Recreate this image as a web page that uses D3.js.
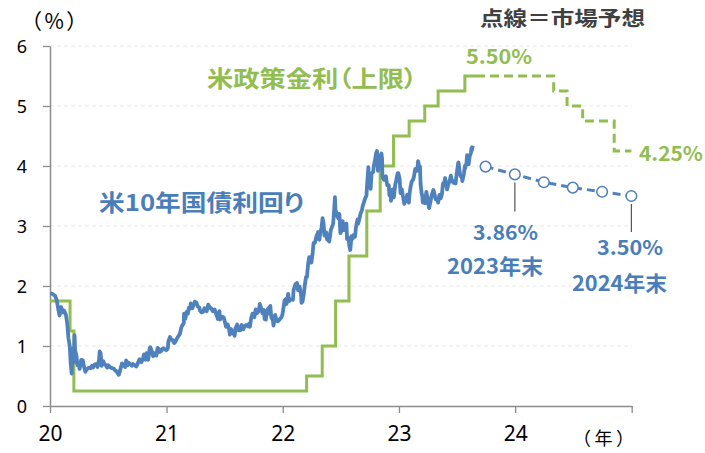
<!DOCTYPE html>
<html><head><meta charset="utf-8">
<script src="https://cdn.jsdelivr.net/npm/d3@7"></script>
<style>body{margin:0;background:#fff}svg{display:block}text{font-feature-settings:"palt"}text.np{font-feature-settings:normal}</style>
</head><body>
<svg id="c" width="705" height="453"></svg>
<script>
// ---- data ----
const yearTicks = [2020, 2021, 2022, 2023, 2024, 2025];
const yearLabels = ["20", "21", "22", "23", "24", ""];
const yTicks = [0, 1, 2, 3, 4, 5, 6];

// US 10-year Treasury yield (actual)
const yieldData = [
["2020-01-02",1.88],["2020-01-08",1.87],["2020-01-13",1.85],["2020-01-17",1.84],["2020-01-22",1.77],["2020-01-27",1.61],["2020-01-31",1.51],
["2020-02-05",1.65],["2020-02-10",1.56],["2020-02-14",1.59],["2020-02-20",1.52],["2020-02-24",1.38],["2020-02-28",1.13],
["2020-03-03",1.00],["2020-03-06",0.71],["2020-03-09",0.54],["2020-03-11",0.82],["2020-03-13",0.96],["2020-03-16",0.73],["2020-03-18",1.18],["2020-03-20",0.92],["2020-03-24",0.84],["2020-03-27",0.68],["2020-03-31",0.70],
["2020-04-03",0.62],["2020-04-08",0.77],["2020-04-13",0.76],["2020-04-17",0.65],["2020-04-21",0.57],["2020-04-24",0.60],["2020-04-29",0.63],
["2020-05-04",0.64],["2020-05-07",0.63],["2020-05-12",0.67],["2020-05-15",0.64],["2020-05-20",0.69],["2020-05-26",0.70],["2020-05-29",0.65],
["2020-06-03",0.77],["2020-06-05",0.91],["2020-06-08",0.88],["2020-06-11",0.67],["2020-06-16",0.75],["2020-06-19",0.71],["2020-06-24",0.68],["2020-06-29",0.64],
["2020-07-02",0.68],["2020-07-07",0.65],["2020-07-10",0.64],["2020-07-15",0.63],["2020-07-20",0.62],["2020-07-24",0.59],["2020-07-28",0.58],["2020-07-31",0.55],
["2020-08-04",0.52],["2020-08-07",0.57],["2020-08-12",0.67],["2020-08-14",0.71],["2020-08-19",0.68],["2020-08-24",0.65],["2020-08-27",0.76],
["2020-09-01",0.68],["2020-09-04",0.72],["2020-09-09",0.70],["2020-09-14",0.67],["2020-09-18",0.70],["2020-09-23",0.68],["2020-09-28",0.66],
["2020-10-02",0.70],["2020-10-07",0.77],["2020-10-09",0.78],["2020-10-14",0.73],["2020-10-19",0.78],["2020-10-22",0.86],["2020-10-27",0.77],["2020-10-30",0.88],
["2020-11-04",0.77],["2020-11-06",0.83],["2020-11-09",0.96],["2020-11-11",0.98],["2020-11-16",0.91],["2020-11-20",0.83],["2020-11-24",0.88],["2020-11-30",0.84],
["2020-12-04",0.97],["2020-12-09",0.94],["2020-12-11",0.90],["2020-12-16",0.92],["2020-12-18",0.95],["2020-12-23",0.96],["2020-12-31",0.93],
["2021-01-05",0.96],["2021-01-07",1.08],["2021-01-12",1.15],["2021-01-15",1.11],["2021-01-20",1.10],["2021-01-25",1.05],["2021-01-29",1.07],
["2021-02-03",1.13],["2021-02-08",1.17],["2021-02-12",1.20],["2021-02-16",1.30],["2021-02-19",1.34],["2021-02-24",1.38],["2021-02-25",1.54],
["2021-03-01",1.45],["2021-03-05",1.57],["2021-03-09",1.54],["2021-03-12",1.64],["2021-03-16",1.62],["2021-03-18",1.71],["2021-03-23",1.63],["2021-03-26",1.67],["2021-03-31",1.74],
["2021-04-05",1.72],["2021-04-09",1.66],["2021-04-14",1.64],["2021-04-16",1.59],["2021-04-21",1.56],["2021-04-26",1.57],["2021-04-30",1.63],
["2021-05-04",1.59],["2021-05-07",1.58],["2021-05-12",1.69],["2021-05-17",1.64],["2021-05-21",1.63],["2021-05-26",1.58],
["2021-06-01",1.61],["2021-06-04",1.56],["2021-06-09",1.49],["2021-06-11",1.45],["2021-06-16",1.58],["2021-06-18",1.44],["2021-06-23",1.49],["2021-06-29",1.48],
["2021-07-02",1.43],["2021-07-07",1.32],["2021-07-12",1.36],["2021-07-16",1.29],["2021-07-19",1.19],["2021-07-23",1.28],["2021-07-28",1.23],
["2021-08-03",1.17],["2021-08-06",1.30],["2021-08-11",1.36],["2021-08-16",1.26],["2021-08-20",1.26],["2021-08-25",1.35],["2021-08-30",1.28],
["2021-09-03",1.33],["2021-09-08",1.35],["2021-09-13",1.33],["2021-09-17",1.37],["2021-09-20",1.32],["2021-09-24",1.47],["2021-09-28",1.54],
["2021-10-04",1.48],["2021-10-08",1.61],["2021-10-13",1.55],["2021-10-18",1.59],["2021-10-21",1.70],["2021-10-26",1.62],["2021-10-29",1.55],
["2021-11-03",1.60],["2021-11-05",1.45],["2021-11-09",1.44],["2021-11-12",1.58],["2021-11-17",1.63],["2021-11-19",1.54],["2021-11-23",1.67],["2021-11-26",1.48],
["2021-12-01",1.43],["2021-12-03",1.34],["2021-12-08",1.52],["2021-12-13",1.42],["2021-12-17",1.41],["2021-12-20",1.43],["2021-12-28",1.48],["2021-12-31",1.52],
["2022-01-04",1.66],["2022-01-07",1.76],["2022-01-10",1.78],["2022-01-13",1.70],["2022-01-18",1.87],["2022-01-21",1.75],["2022-01-25",1.77],["2022-01-28",1.78],
["2022-02-02",1.77],["2022-02-04",1.93],["2022-02-10",2.03],["2022-02-14",1.99],["2022-02-15",2.05],["2022-02-18",1.93],["2022-02-23",1.99],["2022-02-28",1.83],
["2022-03-01",1.72],["2022-03-04",1.74],["2022-03-08",1.86],["2022-03-11",2.00],["2022-03-15",2.15],["2022-03-18",2.15],["2022-03-22",2.38],["2022-03-25",2.48],["2022-03-28",2.46],
["2022-04-01",2.39],["2022-04-05",2.56],["2022-04-08",2.72],["2022-04-12",2.72],["2022-04-18",2.85],["2022-04-20",2.85],["2022-04-22",2.90],["2022-04-26",2.77],["2022-04-29",2.89],
["2022-05-03",2.97],["2022-05-06",3.13],["2022-05-09",3.05],["2022-05-11",2.91],["2022-05-12",2.84],["2022-05-16",2.88],["2022-05-18",2.89],["2022-05-20",2.78],["2022-05-24",2.76],["2022-05-27",2.74],
["2022-06-01",2.93],["2022-06-03",2.96],["2022-06-08",3.03],["2022-06-10",3.15],["2022-06-14",3.48],["2022-06-16",3.19],["2022-06-17",3.25],["2022-06-22",3.16],["2022-06-24",3.13],["2022-06-28",3.20],
["2022-07-01",2.88],["2022-07-06",2.93],["2022-07-08",3.08],["2022-07-13",2.93],["2022-07-15",2.93],["2022-07-20",3.04],["2022-07-22",2.78],["2022-07-27",2.80],["2022-07-29",2.67],
["2022-08-01",2.60],["2022-08-05",2.83],["2022-08-09",2.79],["2022-08-12",2.85],["2022-08-16",2.82],["2022-08-19",2.98],["2022-08-24",3.11],["2022-08-26",3.04],["2022-08-31",3.15],
["2022-09-02",3.20],["2022-09-07",3.27],["2022-09-09",3.33],["2022-09-14",3.41],["2022-09-16",3.45],["2022-09-21",3.51],["2022-09-23",3.69],["2022-09-27",3.98],["2022-09-28",3.73],["2022-09-30",3.83],
["2022-10-04",3.62],["2022-10-07",3.88],["2022-10-12",3.90],["2022-10-14",4.00],["2022-10-19",4.13],["2022-10-21",4.21],["2022-10-24",4.25],["2022-10-27",3.92],["2022-10-31",4.05],
["2022-11-03",4.14],["2022-11-04",4.17],["2022-11-07",4.21],["2022-11-09",4.12],["2022-11-10",3.82],["2022-11-15",3.77],["2022-11-17",3.77],["2022-11-21",3.83],["2022-11-25",3.68],["2022-11-30",3.68],
["2022-12-02",3.51],["2022-12-06",3.51],["2022-12-07",3.42],["2022-12-12",3.61],["2022-12-13",3.50],["2022-12-16",3.48],["2022-12-20",3.68],["2022-12-23",3.75],["2022-12-28",3.88],["2022-12-30",3.88],
["2023-01-03",3.79],["2023-01-06",3.55],["2023-01-10",3.61],["2023-01-13",3.51],["2023-01-18",3.37],["2023-01-19",3.39],["2023-01-24",3.46],["2023-01-27",3.52],
["2023-02-01",3.39],["2023-02-03",3.53],["2023-02-07",3.67],["2023-02-10",3.74],["2023-02-14",3.77],["2023-02-17",3.82],["2023-02-21",3.95],["2023-02-24",3.95],["2023-02-28",3.92],
["2023-03-02",4.08],["2023-03-06",3.98],["2023-03-08",3.99],["2023-03-10",3.70],["2023-03-13",3.55],["2023-03-15",3.51],["2023-03-17",3.39],["2023-03-22",3.48],["2023-03-24",3.38],["2023-03-28",3.57],["2023-03-31",3.48],
["2023-04-05",3.31],["2023-04-06",3.30],["2023-04-10",3.41],["2023-04-14",3.52],["2023-04-19",3.60],["2023-04-21",3.57],["2023-04-26",3.45],["2023-04-28",3.44],
["2023-05-02",3.44],["2023-05-04",3.39],["2023-05-08",3.52],["2023-05-12",3.46],["2023-05-16",3.53],["2023-05-19",3.70],["2023-05-24",3.74],["2023-05-26",3.80],["2023-05-31",3.64],
["2023-06-01",3.61],["2023-06-05",3.69],["2023-06-09",3.75],["2023-06-13",3.84],["2023-06-16",3.77],["2023-06-21",3.72],["2023-06-23",3.74],["2023-06-28",3.71],["2023-06-30",3.81],
["2023-07-06",4.05],["2023-07-07",4.06],["2023-07-12",3.86],["2023-07-14",3.83],["2023-07-18",3.80],["2023-07-19",3.75],["2023-07-24",3.87],["2023-07-27",4.00],["2023-07-28",3.96],
["2023-08-01",4.05],["2023-08-03",4.18],["2023-08-04",4.05],["2023-08-08",4.03],["2023-08-11",4.16],["2023-08-15",4.22],["2023-08-17",4.30],["2023-08-18",4.26],["2023-08-21",4.34]
];

// US 10-year yield market forecast (quarter ends)
const yieldFcDates = ["2023-09-30","2023-12-31","2024-03-31","2024-06-30","2024-09-30","2024-12-31"];
const yieldFcValues = [3.99, 3.86, 3.73, 3.64, 3.57, 3.50];

// Fed funds target upper limit (actual, step changes)
const fedDates = ["2020-01-01","2020-03-04","2020-03-16","2022-03-17","2022-05-05","2022-06-16","2022-07-28","2022-09-22","2022-11-03","2022-12-15","2023-02-02","2023-03-23","2023-05-04","2023-07-27","2023-08-31"];
const fedValues = [1.75, 1.25, 0.25, 0.50, 1.00, 1.75, 2.50, 3.25, 4.00, 4.50, 4.75, 5.00, 5.25, 5.50, 5.50];

// Fed funds upper limit (market forecast)
const fedFcDates = ["2023-08-31","2024-05-01","2024-06-12","2024-07-31","2024-11-07","2024-12-31"];
const fedFcValues = [5.50, 5.25, 5.00, 4.75, 4.25, 4.25];

// ---- chart ----
const blue = "#4f81bd", blueText = "#4a7ebb", green = "#92bd50", axisCol = "#8c8c8c";
const parse = d3.timeParse("%Y-%m-%d");
const svg = d3.select("#c");
const x = d3.scaleTime().domain([new Date(2020,0,1), new Date(2025,0,1)]).range([50, 631.7]);
const y = d3.scaleLinear().domain([0, 6]).range([406, 46]);
const numFont = "'Noto Sans', 'Noto Sans CJK JP', sans-serif";
const jpFont = "'Noto Sans CJK JP', 'Noto Sans', sans-serif";

// grid
svg.append("g").selectAll("line").data(yTicks.filter(v => v > 0)).join("line")
  .attr("x1", x.range()[0]).attr("x2", x.range()[1])
  .attr("y1", d => y(d)).attr("y2", d => y(d))
  .attr("stroke", "#e8e8e8").attr("stroke-width", 1).attr("stroke-dasharray", "4,3");

// axes
const xAxis = svg.append("g").attr("transform", `translate(0,${y(0)})`)
  .call(d3.axisBottom(x).tickValues(yearTicks.map(t => new Date(t,0,1)))
    .tickFormat((d,i) => yearLabels[i]).tickSize(7).tickSizeOuter(0).tickPadding(13));
const yAxis = svg.append("g").attr("transform", `translate(${x.range()[0]},0)`)
  .call(d3.axisLeft(y).tickValues(yTicks).tickFormat(d3.format("d")).tickSize(7).tickSizeOuter(0).tickPadding(16));
[xAxis, yAxis].forEach(g => {
  g.select(".domain").attr("stroke", axisCol).attr("stroke-width", 1.5);
  g.selectAll(".tick line").attr("stroke", axisCol).attr("stroke-width", 1.3);
  g.selectAll("text").attr("fill", "#000").attr("font-family", numFont);
});
xAxis.selectAll("text").attr("font-size", 21);
yAxis.selectAll("text").attr("font-size", 18).attr("dy", "0.35em");

// Fed actual
const fedPts = fedDates.map((d,i) => ({d: parse(d), v: fedValues[i]}));
const fedFcPts = fedFcDates.map((d,i) => ({d: parse(d), v: fedFcValues[i]}));
const stepLine = d3.line().x(p => x(p.d)).y(p => y(p.v)).curve(d3.curveStepAfter);
svg.append("path").attr("d", stepLine(fedPts)).attr("fill", "none")
  .attr("stroke", green).attr("stroke-width", 3);
svg.append("path").attr("d", stepLine(fedFcPts)).attr("fill", "none")
  .attr("stroke", green).attr("stroke-width", 3).attr("stroke-dasharray", "9,5");

// 10y actual
const yPts = yieldData.map(r => ({d: parse(r[0]), v: r[1]}));
const line = d3.line().x(p => x(p.d)).y(p => y(p.v));
svg.append("path").attr("d", line(yPts)).attr("fill", "none")
  .attr("stroke", blue).attr("stroke-width", 3.8).attr("stroke-linejoin", "round");

// 10y forecast
const fcPts = yieldFcDates.map((d,i) => ({d: parse(d), v: yieldFcValues[i]}));
svg.append("path").attr("d", line(fcPts)).attr("fill", "none")
  .attr("stroke", blue).attr("stroke-width", 3).attr("stroke-dasharray", "8,5");

// leader lines
const leaders = [{i: 1, len: 29, off: 8}, {i: 5, len: 28, off: 8}];
leaders.forEach(l => {
  const p = fcPts[l.i];
  svg.append("line").attr("x1", x(p.d)).attr("x2", x(p.d))
    .attr("y1", y(p.v) + l.off).attr("y2", y(p.v) + l.off + l.len)
    .attr("stroke", "#555").attr("stroke-width", 1.2);
});

svg.append("g").selectAll("circle").data(fcPts).join("circle")
  .attr("cx", p => x(p.d)).attr("cy", p => y(p.v)).attr("r", 5.3)
  .attr("fill", "#fff").attr("stroke", blue).attr("stroke-width", 1.5);

// labels
function label(txt, x0, x1, cy, size, color, weight) {
  const t = svg.append("text").text(txt).attr("x", x0).attr("y", cy)
    .attr("dominant-baseline", "central").attr("font-size", size)
    .attr("font-weight", weight || "bold").attr("fill", color)
    .attr("font-family", jpFont);
  if (x1) t.attr("textLength", x1 - x0).attr("lengthAdjust", "spacingAndGlyphs");
  return t;
}
label("（%）", 21, null, 20, 21, "#000", "normal").attr("class", "np").attr("letter-spacing", 2.5);
label("（年）", 573, null, 437, 18, "#000", "normal").attr("class", "np").attr("letter-spacing", 3.5);
label("点線＝市場予想", 480, 645, 17, 20, "#404040");
label("米政策金利（上限）", 207, 417, 76.5, 23, green);
label("米10年国債利回り", 99, 304, 200.5, 23, blueText);
label("5.50%", 466, 532, 55, 20, green);
label("4.25%", 639, 703, 152.7, 20, green);
label("3.86%", 473, 538, 231.7, 20, blueText);
label("2023年末", 447, 543, 265, 21, blueText);
label("3.50%", 597, 663, 246.7, 20, blueText);
label("2024年末", 572, 667, 281.7, 21, blueText);
</script>
</body></html>
